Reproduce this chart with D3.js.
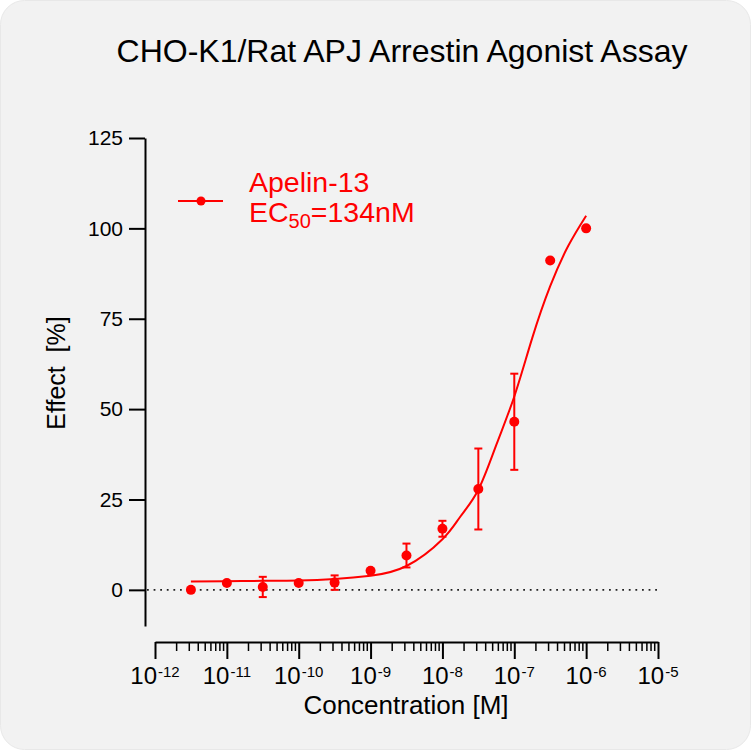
<!DOCTYPE html>
<html>
<head>
<meta charset="utf-8">
<script src="https://cdn.jsdelivr.net/npm/d3@7"></script>
<style>
  html, body { margin: 0; padding: 0; background: #ffffff; }
  svg { display: block; font-family: "Liberation Sans", Arial, sans-serif; }
</style>
</head>
<body>
<svg id="chart"></svg>
<script>
// data
const conc = [3.16e-12, 1e-11, 3.16e-11, 1e-10, 3.16e-10, 1e-9, 3.16e-9, 1e-8, 3.16e-8, 1e-7, 3.16e-7, 1e-6]
const effect = [0, 1.9, 0.8, 1.9, 2.0, 5.3, 9.5, 16.9, 27.9, 46.5, 91.1, 100.0]
const sem = [0, 0, 2.8, 0, 2.0, 0, 3.3, 2.2, 11.2, 13.3, 0, 0]

// fitted curve
const fitConc = [3.16e-12, 1e-11, 3.16e-11, 1e-10, 3.16e-10, 1e-9, 3.16e-9, 1e-8, 1.78e-8, 3.16e-8, 5.62e-8, 1e-7, 1.78e-7, 3.16e-7, 5.62e-7, 1e-6]
const fitEffect = [2.3, 2.4, 2.5, 2.6, 3.0, 3.9, 6.6, 14.0, 20.3, 27.7, 40.1, 53.5, 69.7, 84.0, 95.1, 103.5]

const yTicks = [0, 25, 50, 75, 100, 125]
const xDecades = [-12, -11, -10, -9, -8, -7, -6, -5]

const title = "CHO-K1/Rat APJ Arrestin Agonist Assay"
const seriesName = "Apelin-13"
const red = "#ff0000"

const width = 751, height = 750

const svg = d3.select("#chart")
  .attr("width", width)
  .attr("height", height)

// panel background
svg.append("rect")
  .attr("x", 0.5).attr("y", 0.5)
  .attr("width", width - 1).attr("height", height - 1)
  .attr("rx", 24)
  .attr("fill", "#f2f2f2")
  .attr("stroke", "#e8e8e8")

svg.append("text")
  .attr("x", 402).attr("y", 62)
  .attr("text-anchor", "middle")
  .style("font-size", "32px")
  .text(title)

// scales
const xScale = d3.scaleLog().domain([1e-12, 1e-5]).range([155, 658])
const yScale = d3.scaleLinear().domain([-10, 125]).range([626, 138])

// y-axis
const yAxis = svg.append("g")
  .attr("transform", "translate(145, 0)")
  .call(d3.axisLeft(yScale).tickValues(yTicks).tickSize(16).tickSizeOuter(0).tickPadding(6))
yAxis.selectAll("path, line").attr("stroke", "#000").attr("stroke-width", 2)
yAxis.selectAll("text").style("font-size", "21px").attr("fill", "#000")

// x-axis (major ticks)
const xAxis = svg.append("g")
  .attr("transform", "translate(0, 642)")
  .call(d3.axisBottom(xScale)
    .tickValues(xDecades.map(p => Math.pow(10, p)))
    .tickSize(17).tickSizeOuter(0)
    .tickFormat(""))
xAxis.selectAll("path, line").attr("stroke", "#000").attr("stroke-width", 2)

// minor ticks
const minor = []
xDecades.slice(0, -1).forEach(p => {
  for (let k = 2; k <= 9; k++) minor.push(k * Math.pow(10, p))
})
xAxis.selectAll(".minor")
  .data(minor)
  .enter()
  .append("line")
  .attr("class", "minor")
  .attr("x1", d => xScale(d)).attr("x2", d => xScale(d))
  .attr("y1", 0).attr("y2", 9)
  .attr("stroke", "#000")
  .attr("stroke-width", 1.5)

// 10^n labels
const xLabels = svg.selectAll(".xlabel")
  .data(xDecades)
  .enter()
  .append("text")
  .attr("class", "xlabel")
  .attr("x", d => xScale(Math.pow(10, d)))
  .attr("y", 684)
  .attr("text-anchor", "middle")
  .style("font-size", "24px")
xLabels.append("tspan").text("10")
xLabels.append("tspan")
  .attr("dy", -7)
  .attr("dx", 1)
  .style("font-size", "15px")
  .text(d => "-" + Math.abs(d))

// axis titles
svg.append("text")
  .attr("x", 406).attr("y", 714)
  .attr("text-anchor", "middle")
  .style("font-size", "26px")
  .text("Concentration [M]")

svg.append("text")
  .attr("transform", "translate(65, 373) rotate(-90)")
  .attr("text-anchor", "middle")
  .style("font-size", "25px")
  .attr("xml:space", "preserve")
  .text("Effect  [%]")

// zero line
svg.append("line")
  .attr("x1", 147).attr("x2", xScale(1e-5))
  .attr("y1", yScale(0)).attr("y2", yScale(0))
  .attr("stroke", "#222")
  .attr("stroke-width", 1.8)
  .attr("stroke-dasharray", "1.8,4.8")

// fitted curve
svg.append("path")
  .datum(fitConc.map((c, i) => [c, fitEffect[i]]))
  .attr("fill", "none")
  .attr("stroke", red)
  .attr("stroke-width", 2)
  .attr("d", d3.line()
    .x(d => xScale(d[0]))
    .y(d => yScale(d[1]))
    .curve(d3.curveNatural))

// error bars
const points = conc.map((c, i) => ({c: c, v: effect[i], e: sem[i]}))
const bars = svg.selectAll(".err")
  .data(points.filter(d => d.e > 0))
  .enter()
  .append("g")
  .attr("class", "err")
  .attr("stroke", red)
  .attr("stroke-width", 2)
bars.append("line")
  .attr("x1", d => xScale(d.c)).attr("x2", d => xScale(d.c))
  .attr("y1", d => yScale(d.v - d.e)).attr("y2", d => yScale(d.v + d.e))
bars.append("line")
  .attr("x1", d => xScale(d.c) - 4).attr("x2", d => xScale(d.c) + 4)
  .attr("y1", d => yScale(d.v + d.e)).attr("y2", d => yScale(d.v + d.e))
bars.append("line")
  .attr("x1", d => xScale(d.c) - 4).attr("x2", d => xScale(d.c) + 4)
  .attr("y1", d => yScale(d.v - d.e)).attr("y2", d => yScale(d.v - d.e))

// points
svg.selectAll(".pt")
  .data(points)
  .enter()
  .append("circle")
  .attr("class", "pt")
  .attr("cx", d => xScale(d.c))
  .attr("cy", d => yScale(d.v))
  .attr("r", 5)
  .attr("fill", red)

// legend
const legend = svg.append("g")
legend.append("line")
  .attr("x1", 178).attr("x2", 223)
  .attr("y1", 201).attr("y2", 201)
  .attr("stroke", red).attr("stroke-width", 2)
legend.append("circle")
  .attr("cx", 201).attr("cy", 201).attr("r", 4.5)
  .attr("fill", red)
legend.append("text")
  .attr("x", 249).attr("y", 192)
  .attr("fill", red)
  .style("font-size", "28.5px")
  .text(seriesName)
const ec = legend.append("text")
  .attr("x", 249).attr("y", 222)
  .attr("fill", red)
  .style("font-size", "28.5px")
ec.append("tspan").text("EC")
ec.append("tspan").attr("dy", 6).style("font-size", "20px").text("50")
ec.append("tspan").attr("dy", -6).text("=134nM")
</script>
</body>
</html>
